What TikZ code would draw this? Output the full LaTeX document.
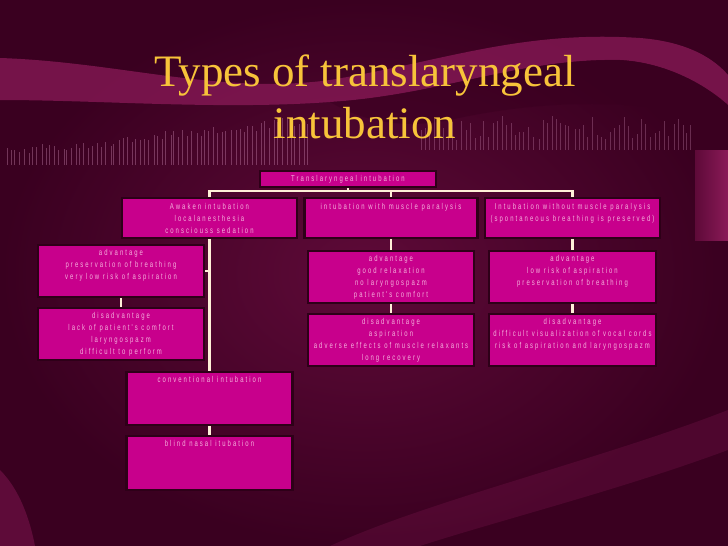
\documentclass[tikz,border=0pt]{standalone}
\usepackage{fontspec}
\setmainfont{Liberation Serif}
\newfontfamily\boxfont[LetterSpace=24,FakeStretch=0.7]{Liberation Sans}
\usetikzlibrary{calc}
\definecolor{bgdark}{HTML}{3A0020}
\definecolor{bgmid}{HTML}{5E0A38}
\definecolor{band}{HTML}{8A1A58}
\definecolor{boxfill}{HTML}{C8008C}
\definecolor{boxborder}{HTML}{2E0018}
\definecolor{boxtext}{HTML}{F4B0DC}
\definecolor{linecol}{HTML}{FFF0D8}
\definecolor{gold}{HTML}{F7C33A}
\pgfdeclarelayer{bg}
\pgfdeclarelayer{lines}
\pgfsetlayers{bg,lines,main}
\tikzset{
  bx/.style={draw=boxborder, line width=2.5pt, fill=boxfill, inner sep=0pt},
  txt/.style={font=\boxfont\fontsize{8.5}{12}\selectfont, text=boxtext, align=center, anchor=north, inner sep=0pt},
  conn/.style={draw=linecol, line width=2.2pt},
  ttl/.style={font=\fontsize{45}{52}\selectfont, text=gold, align=center, inner sep=0pt}
}
\begin{document}
\begin{tikzpicture}[x=1pt,y=-1pt]
\useasboundingbox (0,0) rectangle (728,546);
\begin{pgfonlayer}{bg}
  \shade[inner color=bgmid, outer color=bgdark] (0,0) rectangle (728,546);
  % upper wave band
  \fill[band, opacity=0.75] (0,58) .. controls (120,62) and (220,95) .. (330,80)
     .. controls (440,62) and (520,30) .. (640,38) .. controls (690,42) and (715,60) .. (728,75)
     -- (728,105) .. controls (700,80) and (660,62) .. (620,60)
     .. controls (520,58) and (440,95) .. (330,102) .. controls (220,110) and (100,100) .. (0,100) -- cycle;
  \fill[bgdark, opacity=0.5] (330,102) .. controls (440,95) and (520,58) .. (620,60)
     .. controls (660,62) and (700,80) .. (728,105) -- (728,130) .. controls (680,100) and (560,95) .. (450,120)
     .. controls (400,130) and (360,120) .. (330,102) -- cycle;
  % right bright band
  \shade[left color=bgmid, right color=band] (695,150) rectangle (728,240);
  % lower bands
  \fill[band, opacity=0.45] (0,470) .. controls (20,490) and (30,520) .. (35,546) -- (0,546) -- cycle;
  \fill[band, opacity=0.25] (330,546) .. controls (430,500) and (600,460) .. (728,410) -- (728,450)
     .. controls (620,490) and (500,520) .. (420,546) -- cycle;
  % barcode lines
  \pgfmathsetseed{11}
  \foreach \i in {0,...,70}{
    \pgfmathsetmacro\xx{6+\i*4.3+rnd*2}
    \pgfmathsetmacro\hh{8+\i*0.45+rnd*10}
    \draw[boxtext, opacity=0.3, line width=0.5pt] (\xx,165) -- (\xx,165-\hh);
  }
  \foreach \i in {0,...,60}{
    \pgfmathsetmacro\xx{420+\i*4.5+rnd*2}
    \pgfmathsetmacro\hh{10+rnd*25}
    \draw[boxtext, opacity=0.25, line width=0.5pt] (\xx,150) -- (\xx,150-\hh);
  }
\end{pgfonlayer}

% title
\node[ttl] (title) at (365,97) {Types of translaryngeal\\intubation};

% boxes
\node[bx, minimum width=176pt, minimum height=16pt] (root) at (348,179) {};
\node[txt, anchor=center] (roott) at (root.center) {Translaryngeal intubation};

\node[bx, minimum width=175pt, minimum height=40pt] (A) at (209.5,218) {};
\node[txt] (At) at ([yshift=-6pt]A.north) {Awaken intubation\\localanesthesia\\consciouss sedation};
\node[bx, minimum width=173pt, minimum height=40pt] (B) at (391,218) {};
\node[txt] (Bt) at ([yshift=-6pt]B.north) {intubation with muscle paralysis};
\node[bx, minimum width=175pt, minimum height=40pt] (C) at (572.5,218) {};
\node[txt] (Ct) at ([yshift=-6pt]C.north) {Intubation without muscle paralysis\\(spontaneous breathing is preserved)};

\node[bx, minimum width=166pt, minimum height=52pt] (LA) at (121,271) {};
\node[txt] (LAt) at ([yshift=-5.5pt]LA.north) {advantage\\preservation of breathing\\very low risk of aspiration};
\node[bx, minimum width=166pt, minimum height=52pt] (LD) at (121,334) {};
\node[txt] (LDt) at ([yshift=-5.5pt]LD.north) {disadvantage\\lack of patient's comfort\\laryngospazm\\difficult to perform};

\node[bx, minimum width=166pt, minimum height=53pt] (conv) at (209.5,398.5) {};
\node[txt] (convt) at ([yshift=-5.5pt]conv.north) {conventional intubation};
\node[bx, minimum width=166pt, minimum height=54pt] (blind) at (209.5,463) {};
\node[txt] (blindt) at ([yshift=-5.5pt]blind.north) {blind nasal itubation};

\node[bx, minimum width=166pt, minimum height=52pt] (BA) at (391,277) {};
\node[txt] (BAt) at ([yshift=-5pt]BA.north) {advantage\\good relaxation\\no laryngospazm\\patient's comfort};
\node[bx, minimum width=166pt, minimum height=52pt] (BD) at (391,340) {};
\node[txt] (BDt) at ([yshift=-5pt]BD.north) {disadvantage\\aspiration\\adverse effects of muscle relaxants\\long recovery};

\node[bx, minimum width=167pt, minimum height=52pt] (CA) at (572.5,277) {};
\node[txt] (CAt) at ([yshift=-5pt]CA.north) {advantage\\low risk of aspiration\\preservation of breathing};
\node[bx, minimum width=167pt, minimum height=52pt] (CD) at (572.5,340) {};
\node[txt] (CDt) at ([yshift=-5pt]CD.north) {disadvantage\\difficult visualization of vocal cords\\risk of aspiration and laryngospazm};

% connectors
\coordinate (bus) at (348,191);
\begin{pgfonlayer}{lines}
  \draw[conn] (root.south) -- (root.south |- bus);
  \draw[conn] (A.north) -- (A.north |- bus) -- (C.north |- bus) -- (C.north);
  \draw[conn] (B.north) -- (B.north |- bus);
  \draw[conn] (A.south) -- (conv.north);
  \draw[conn] (LA.east) -- (LA.east -| A.south);
  \draw[conn] (LA.south) -- (LD.north);
  \draw[conn] (conv.south) -- (blind.north);
  \draw[conn] (B.south) -- (BA.north);
  \draw[conn] (BA.south) -- (BD.north);
  \draw[conn] (C.south) -- (CA.north);
  \draw[conn] (CA.south) -- (CD.north);
\end{pgfonlayer}
\end{tikzpicture}
\end{document}
